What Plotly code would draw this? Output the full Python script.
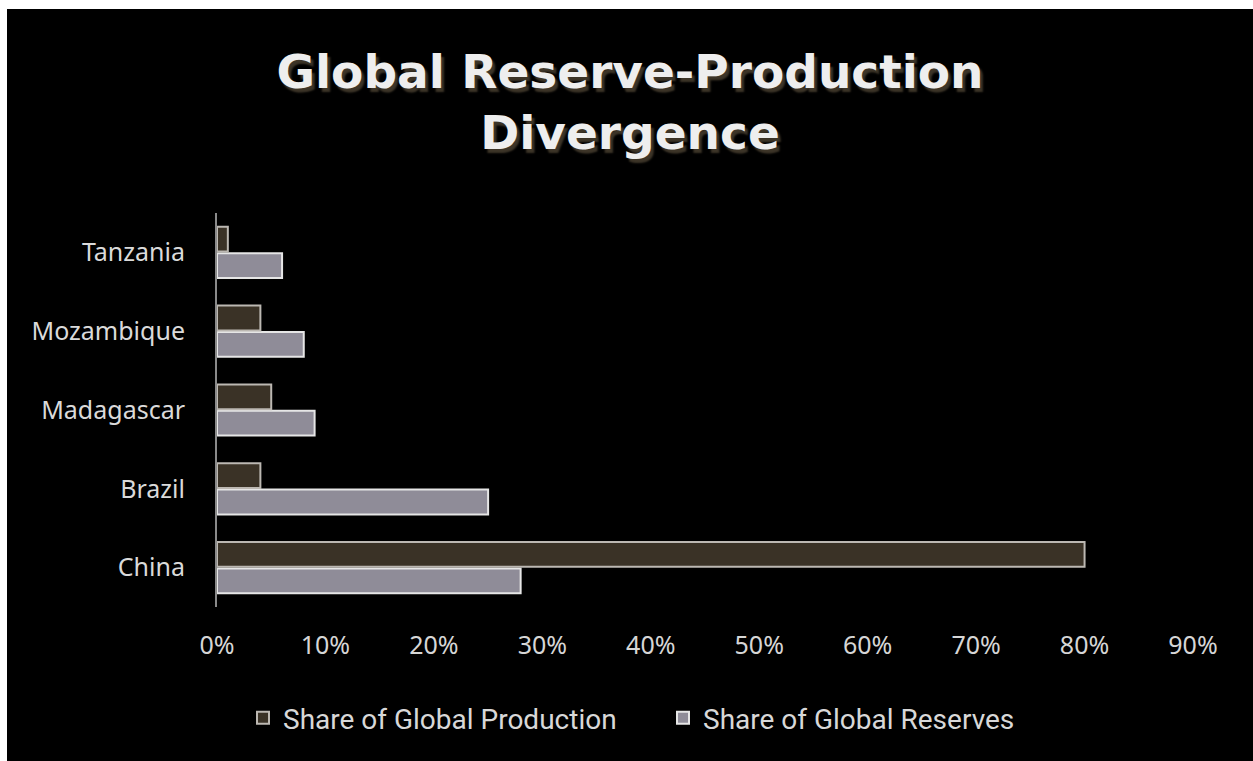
import plotly.graph_objects as go

# Countries listed bottom-to-top as they appear on the category axis
countries = ["China", "Brazil", "Madagascar", "Mozambique", "Tanzania"]
production_share = [0.80, 0.04, 0.05, 0.04, 0.01]
reserves_share = [0.28, 0.25, 0.09, 0.08, 0.06]
x_tick_values = [0.0, 0.1, 0.2, 0.3, 0.4, 0.5, 0.6, 0.7, 0.8, 0.9]

W, H = 1253, 761
ML, MR, MT, MB = 217, 60, 213, 154
PW, PH = W - ML - MR, H - MT - MB


def px_x(px):
    return (px - ML) / PW


def px_y(py):
    return (H - MB - py) / PH


fig = go.Figure()

# Reserves trace first so it sits below the production bar in each group
fig.add_trace(go.Bar(
    y=countries, x=reserves_share, orientation="h",
    name="Share of Global Reserves",
    marker=dict(color="#8f8c98", line=dict(color="#e6e6e6", width=2)),
))
fig.add_trace(go.Bar(
    y=countries, x=production_share, orientation="h",
    name="Share of Global Production",
    marker=dict(color="#3a3226", line=dict(color="#bcb8b2", width=2)),
))

fig.update_layout(
    width=W, height=H,
    margin=dict(l=ML, r=MR, t=MT, b=MB),
    paper_bgcolor="#000000",
    plot_bgcolor="#000000",
    barmode="group",
    bargap=0.33,
    bargroupgap=0.06,
    title=dict(
        text="Global Reserve-Production<br>Divergence",
        xref="container", yref="container",
        x=630 / W, y=1 - 88 / H,
        xanchor="center", yanchor="middle",
        font=dict(family="DejaVu Sans", size=47, color="#eeeeee",
                  weight="bold", shadow="3px 4px 2px #3d3528"),
    ),
    xaxis=dict(
        range=[0, 0.9],
        tickvals=x_tick_values,
        tickformat=".0%",
        showgrid=False, zeroline=False, showline=False,
        ticks="", ticklabelstandoff=21,
        tickfont=dict(family="Noto Sans", size=25, color="#d6d6d6"),
    ),
    yaxis=dict(
        showgrid=False, zeroline=False,
        showline=True, linecolor="#8a8a8a", linewidth=2,
        ticks="", ticklabelstandoff=25,
        tickfont=dict(family="Noto Sans", size=25, color="#dadada"),
    ),
    legend=dict(
        orientation="h", traceorder="reversed",
        xref="container", yref="container",
        x=663 / W, y=1 - 718 / H,
        xanchor="center", yanchor="middle",
        entrywidth=375, entrywidthmode="pixels",
        font=dict(family="Roboto", size=28, color="#d8d8d8"),
        bgcolor="rgba(0,0,0,0)",
    ),
    shapes=[
        # thin light frame strips along the top and left edges
        dict(type="rect", xref="paper", yref="paper", layer="above",
             x0=px_x(0), x1=px_x(7), y0=px_y(H), y1=px_y(0),
             fillcolor="#ffffff", line=dict(width=0)),
        dict(type="rect", xref="paper", yref="paper", layer="above",
             x0=px_x(0), x1=px_x(W), y0=px_y(9), y1=px_y(0),
             fillcolor="#ffffff", line=dict(width=0)),
    ],
)

fig.write_html("out.html")
